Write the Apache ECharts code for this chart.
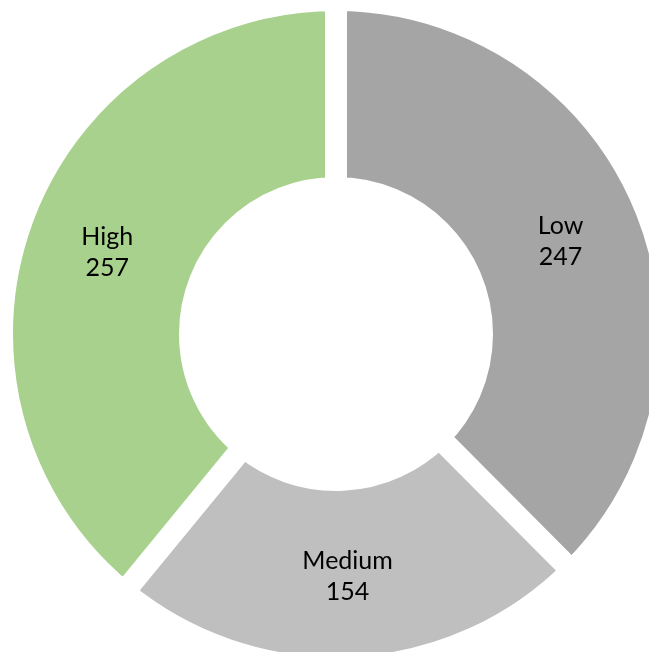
<!DOCTYPE html>
<html>
<head>
<meta charset="utf-8">
<script src="https://cdn.jsdelivr.net/npm/echarts@6/dist/echarts.min.js"></script>
<style>
html,body{margin:0;padding:0;background:#fff;}
#chart{width:649px;height:652px;}
</style>
</head>
<body>
<div id="chart"></div>
<script>
const categories = ['Low', 'Medium', 'High'];
const values = [247, 154, 257];
const colors = ['#a5a5a5', '#bfbfbf', '#a9d18e'];

const chart = echarts.init(document.getElementById('chart'));
chart.setOption({
  animation: false,
  backgroundColor: '#ffffff',
  series: [{
    type: 'pie',
    center: [336, 334],
    radius: [146, 334],
    startAngle: 90,
    clockwise: true,
    avoidLabelOverlap: false,
    itemStyle: { borderColor: '#ffffff', borderWidth: 22 },
    label: {
      show: true,
      position: 'inside',
      formatter: '{b}\n{c}',
      color: '#000000',
      fontFamily: 'Lato',
      fontSize: 25,
      lineHeight: 31
    },
    labelLine: { show: false },
    emphasis: { disabled: true },
    data: categories.map((c, i) => ({ name: c, value: values[i], itemStyle: { color: colors[i] } }))
  }]
});
</script>
</body>
</html>
